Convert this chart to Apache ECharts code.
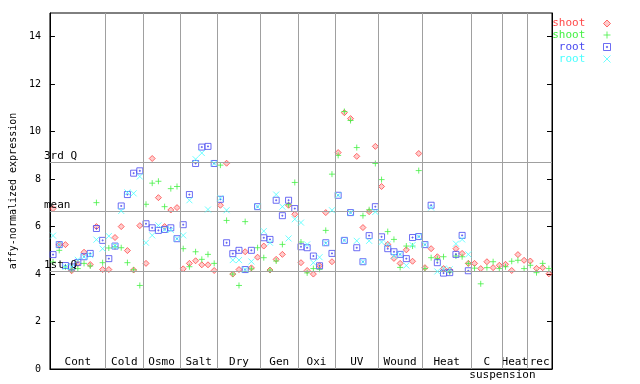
<!DOCTYPE html>
<html><head><meta charset="utf-8">
<script src="https://cdn.jsdelivr.net/npm/echarts@6/dist/echarts.min.js"></script>
<style>html,body{margin:0;padding:0;background:#fff}#c{width:640px;height:384px}</style>
</head><body><div id="c"></div>
<script>
// ---- data ----
const groups = ['Cont','Cold','Osmo','Salt','Dry','Gen','Oxi','UV','Wound','Heat','C','Heat','rec'];
const groupSizes = [9,6,6,6,7,6,6,7,7,8,5,4,4];
const yTicks = [0,2,4,6,8,10,12,14];
const statNames = ['3rd Q','mean','1st Q'];
const statValues = [8.70, 6.63, 4.10];
const legendNames = ['shoot','shoot',' root',' root'];

const shootRed = [
 6.76,5.24,5.24,4.14,4.45,4.92,4.40,6.00,4.19,
 4.19,5.54,6.00,4.99,4.17,6.04,
 4.45,8.87,7.22,6.00,6.70,6.80,
 4.22,4.45,4.56,4.39,4.39,4.15,
 6.90,8.67,4.00,4.19,4.94,4.26,4.71,
 5.18,4.17,4.62,4.83,6.90,6.52,
 4.48,4.15,4.00,4.35,6.59,4.52,
 9.12,10.80,10.55,8.96,5.96,6.63,9.38,
 7.69,5.25,4.66,4.45,5.02,4.54,9.08,
 4.27,5.07,4.73,4.23,4.17,5.07,4.87,4.45,
 4.45,4.23,4.52,4.27,4.37,
 4.41,4.15,4.82,4.58,
 4.55,4.24,4.27,4.01
];
const shootGreen = [
 4.51,5.00,4.30,4.18,4.23,4.45,4.34,7.01,4.48,
 5.10,5.15,5.11,4.48,4.18,3.52,
 6.94,7.83,7.91,6.84,7.60,7.69,
 5.07,4.31,4.94,4.62,4.83,4.45,
 8.59,6.26,4.00,3.52,6.21,4.22,5.11,
 4.69,4.17,4.55,5.25,6.92,7.86,
 5.35,4.05,4.23,4.20,5.84,8.21,
 9.00,10.85,10.47,9.33,6.46,6.71,8.66,
 7.98,5.79,5.46,4.28,5.18,5.18,8.36,
 4.23,4.69,4.65,4.73,4.08,4.76,4.73,4.45,
 4.25,3.59,4.27,4.52,4.23,
 4.31,4.54,4.58,4.23,
 4.37,4.06,4.45,4.23
];
const rootBlue = [
 4.82,5.24,4.36,4.30,4.49,4.73,4.87,5.92,5.42,
 4.65,5.18,6.87,7.35,8.25,8.35,
 6.12,5.95,5.84,5.88,5.95,5.49,
 6.08,7.35,8.66,9.35,9.38,8.66,
 7.15,5.32,4.86,5.00,4.19,5.00,6.84,
 5.53,5.46,7.11,6.46,7.11,6.76,
 5.15,5.11,4.76,4.35,5.32,4.87,
 7.32,5.42,6.59,5.11,4.52,5.62,6.84,
 5.57,5.07,4.94,4.83,4.65,5.54,5.58,
 5.24,6.90,4.48,4.04,4.06,4.83,5.63,4.14,
 null,null,null,null,null,
 null,null,null,null,
 null,null,null,null
];
const rootCyan = [
 5.62,5.24,4.30,4.30,4.60,4.73,4.80,5.45,5.07,
 5.60,5.18,6.66,7.44,7.40,8.11,
 5.32,5.63,6.05,5.88,5.86,5.49,
 5.63,7.11,8.84,9.10,6.72,8.66,
 7.20,6.69,4.59,4.59,4.19,4.53,6.84,
 5.81,5.32,7.35,6.84,5.50,6.31,
 6.17,5.25,4.48,4.71,5.30,6.69,
 7.32,5.42,6.59,5.40,4.52,5.40,6.62,
 5.35,5.25,4.76,4.83,4.36,5.22,5.58,
 5.24,6.80,4.11,4.23,4.20,5.28,5.46,4.83,
 null,null,null,null,null,
 null,null,null,null,
 null,null,null,null
];

// ---- build ----
const MONO = '"DejaVu Sans Mono", monospace';
const total = groupSizes.reduce((a,b)=>a+b,0);
const bounds = []; const centers = []; const centerName = {};
let acc = 0;
groupSizes.forEach((s,k)=>{ const c = acc + s/2; centers.push(c); centerName[c.toFixed(2)] = groups[k]; acc += s; if (acc < total) bounds.push(acc); });
const toPts = arr => arr.map((v,i)=> v==null ? null : [i+0.5, v]).filter(p=>p);

const colors = ['#ff4848','#44f044','#4848f0','#48ffff'];
const symbols = [
 'path://M3,0L6,3L3,6L0,3Z',
 'path://M3,0L3,6M0,3L6,3',
 'path://M0,0L6,0L6,6L0,6Z M2.5,2.5L3.5,2.5L3.5,3.5L2.5,3.5Z',
 'path://M0,0L6,6M6,0L0,6'
];
const fills = ['rgba(255,72,72,0.35)','none','none','none'];
const ids = ['s_red','s_green','r_blue','r_cyan'];
const datasets = [shootRed, shootGreen, rootBlue, rootCyan];

const series = [{
  type:'line', data:[], z:1, silent:true,
  markLine:{
    silent:true, symbol:['none','none'], animation:false,
    lineStyle:{color:'#a0a0a0', type:'solid', width:1},
    label:{show:false},
    data: bounds.map(b=>({xAxis:b})).concat(statValues.map((v,k)=>({
      yAxis:v,
      label:{show:true, formatter:statNames[k], position:'insideStartTop', distance:[-6,1],
             color:'#000', fontFamily:MONO, fontSize:11}
    })))
  }
}];
datasets.forEach((d,k)=>{
  series.push({
    name: ids[k], type:'scatter', z:2+k, data: toPts(d),
    symbol: symbols[k], symbolSize: 6, animation:false,
    itemStyle:{color: fills[k], borderColor: colors[k], borderWidth:1}
  });
});

const chart = echarts.init(document.getElementById('c'), null, {renderer:'canvas'});
chart.setOption({
  animation:false,
  grid:{left:44, right:88, top:13, bottom:15, show:true, borderColor:'#000', borderWidth:1, backgroundColor:'transparent'},
  legend:{
    orient:'vertical', right:27, top:18, padding:0, align:'right', itemGap:0, itemWidth:7, itemHeight:7,
    textStyle:{fontFamily:MONO, fontSize:11, lineHeight:11},
    formatter: n => legendNames[ids.indexOf(n)] + '  ',
    data: ids.map((id,k)=>({
      name:id, icon:symbols[k],
      itemStyle:{color:fills[k], borderColor:colors[k], borderWidth:1},
      textStyle:{color:colors[k], lineHeight:11, height:11}
    }))
  },
  xAxis:{
    type:'value', min:0, max:total,
    axisLine:{show:true, lineStyle:{color:'#000'}},
    axisTick:{show:false}, splitLine:{show:false},
    axisLabel:{inside:true, margin:1, customValues:centers, color:'#000', fontFamily:MONO, fontSize:11,
      formatter: v => centerName[Number(v).toFixed(2)] || ''}
  },
  yAxis:[{
    type:'value', min:0, max:15, interval:2,
    name:'affy-normalized expression', nameLocation:'middle', nameGap:28,
    nameTextStyle:{fontFamily:MONO, fontSize:10, color:'#000'},
    axisLine:{show:true, lineStyle:{color:'#000'}},
    axisTick:{show:true, inside:true, length:5, lineStyle:{color:'#000'}, customValues:yTicks},
    axisLabel:{customValues:yTicks, margin:9, color:'#000', fontFamily:MONO, fontSize:10},
    splitLine:{show:false}
  },{
    type:'value', min:0, max:15, interval:2, position:'right',
    axisLine:{show:true, lineStyle:{color:'#000'}},
    axisTick:{show:true, inside:true, length:5, lineStyle:{color:'#000'}, customValues:yTicks},
    axisLabel:{show:false}, splitLine:{show:false}
  }],
  series: series
});
const sx = chart.convertToPixel({xAxisIndex:0}, bounds[10]);
chart.setOption({graphic:[{type:'text', x:sx, y:375, style:{text:'suspension', fontFamily:MONO, fontSize:11, fill:'#000', align:'center', verticalAlign:'middle'}}]});
</script></body></html>
